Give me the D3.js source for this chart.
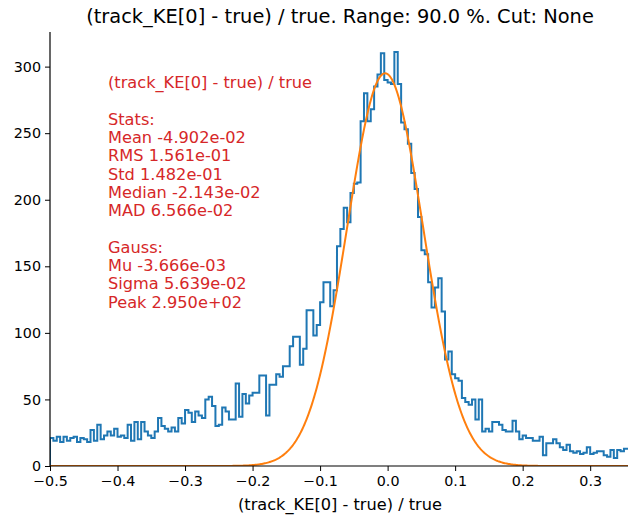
<!DOCTYPE html>
<html>
<head>
<meta charset="utf-8">
<script src="https://cdn.jsdelivr.net/npm/d3@7"></script>
<style>
  html, body { margin: 0; padding: 0; background: #fff; }
  svg { display: block; font-family: "DejaVu Sans", sans-serif; }
</style>
</head>
<body>
<svg id="chart" width="628" height="515"></svg>
<script>
// ---- data ----
const binStart = -0.5;
const binWidth = 0.005;
const counts = [
  21,19,22,18,22,19,21,22,18,21,20,18,27,19,31,20,23,26,23,28,22,23,21,31,19,33,
  20,33,26,23,21,26,36,30,28,26,29,26,36,32,42,40,33,41,38,36,50,52,45,30,31,
  44,41,35,35,62,37,54,47,53,55,55,68,68,38,61,61,69,67,75,75,90,97,97,76,88,117,117,98,106,123,
  138,138,120,132,165,178,194,183,205,212,213,259,280,259,268,285,294,310,290,288,287,311,287,
  258,253,242,220,208,187,162,159,
  138,119,134,141,116,80,86,69,66,64,51,48,46,50,35,50,26,28,26,33,33,31,27,26,26,34,26,20,23,21,21,19,19,22,8,
  17,17,20,17,14,12,16,11,10,11,9,10,14,9,10,11,11,8,7,12,6,12,11,13,13
];
const gaussMu = -3.666e-3;
const gaussSigma = 5.639e-2;
const gaussPeak = 2.950e+02;
const xTicks = [-0.5, -0.4, -0.3, -0.2, -0.1, 0.0, 0.1, 0.2, 0.3];
const yTicks = [0, 50, 100, 150, 200, 250, 300];
const xDomain = [-0.5, 0.356];
const yDomain = [0, 326];
const titleText = "(track_KE[0] - true) / true. Range: 90.0 %. Cut: None";
const xLabelText = "(track_KE[0] - true) / true";
const statsLines = [
  "(track_KE[0] - true) / true",
  "",
  "Stats:",
  "Mean -4.902e-02",
  "RMS 1.561e-01",
  "Std 1.482e-01",
  "Median -2.143e-02",
  "MAD 6.566e-02",
  "",
  "Gauss:",
  "Mu -3.666e-03",
  "Sigma 5.639e-02",
  "Peak 2.950e+02"
];

// ---- layout ----
const svg = d3.select("#chart");
const pLeft = 50, pRight = 628, pTop = 32, pBottom = 466;
const x = d3.scaleLinear().domain(xDomain).range([pLeft, pRight]);
const y = d3.scaleLinear().domain(yDomain).range([pBottom, pTop]);

svg.append("rect").attr("width", 628).attr("height", 515).attr("fill", "#fff");

const clip = svg.append("defs").append("clipPath").attr("id", "clip");
clip.append("rect").attr("x", pLeft).attr("y", pTop).attr("width", pRight - pLeft).attr("height", pBottom - pTop);

const plot = svg.append("g").attr("clip-path", "url(#clip)");

// histogram step line
let d = `M${x(binStart)},${y(0)}`;
counts.forEach((c, i) => {
  d += `V${y(c)}H${x(binStart + (i + 1) * binWidth)}`;
});
d += `V${y(0)}`;
plot.append("path").attr("d", d).attr("fill", "none")
  .attr("stroke", "#1f77b4").attr("stroke-width", 2).attr("stroke-linejoin", "miter");

// gauss curve
const gxs = d3.range(0, 601).map(k => xDomain[0] + (xDomain[1] - xDomain[0]) * k / 600);
const gaussLine = d3.line()
  .x(v => x(v))
  .y(v => y(gaussPeak * Math.exp(-0.5 * Math.pow((v - gaussMu) / gaussSigma, 2))));
plot.append("path").datum(gxs).attr("d", gaussLine).attr("fill", "none")
  .attr("stroke", "#ff7f0e").attr("stroke-width", 2);

// axes
const xAxis = d3.axisBottom(x).tickValues(xTicks).tickFormat(d3.format(".1f")).tickSizeOuter(0).tickSize(5).tickPadding(4.5);
const yAxis = d3.axisLeft(y).tickValues(yTicks).tickFormat(d3.format("d")).tickSizeOuter(0).tickSize(5).tickPadding(4);

const gX = svg.append("g").attr("transform", `translate(0,${pBottom})`).call(xAxis);
const gY = svg.append("g").attr("transform", `translate(${pLeft},0)`).call(yAxis);
[gX, gY].forEach(g => {
  g.selectAll("text").attr("font-size", 14.3).attr("font-family", "DejaVu Sans").attr("fill", "#000");
  g.selectAll("line").attr("stroke", "#000").attr("stroke-width", 1);
  g.select(".domain").attr("stroke", "#000").attr("stroke-width", 1.2);
});
gX.select(".domain").attr("d", `M${pLeft},0H${pRight}`);
gY.select(".domain").attr("d", `M0,${pBottom}V${pTop}`);

// title
svg.append("text").attr("x", 340).attr("y", 23).attr("text-anchor", "middle")
  .attr("font-size", 19.4).attr("fill", "#000").text(titleText);

// x label
svg.append("text").attr("x", 340).attr("y", 510).attr("text-anchor", "middle")
  .attr("font-size", 16.2).attr("fill", "#000").text(xLabelText);

// stats text
const st = svg.append("text").attr("font-size", 16.2).attr("fill", "#d62728");
statsLines.forEach((line, i) => {
  st.append("tspan").attr("x", 108).attr("y", 88 + i * 18.3).text(line);
});
</script>
</body>
</html>
